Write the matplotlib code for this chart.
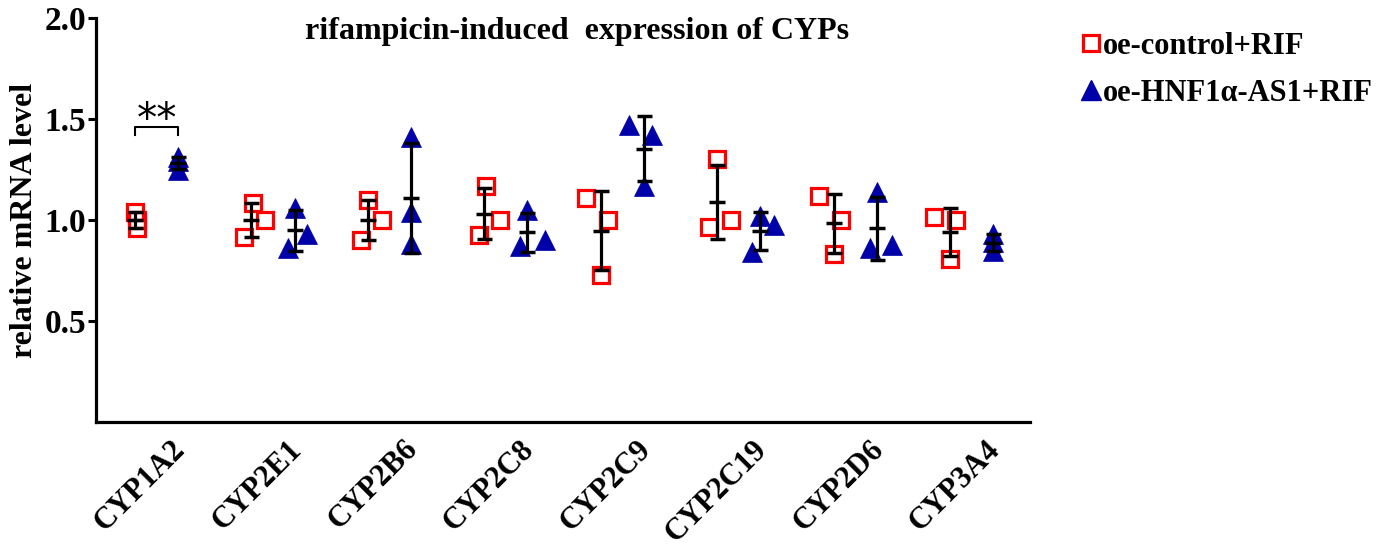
import numpy as np
import matplotlib
matplotlib.use("Agg")
import matplotlib.pyplot as plt
import matplotlib.transforms as mtransforms
from matplotlib.lines import Line2D

# ---------------- data ----------------
genes = ["CYP1A2", "CYP2E1", "CYP2B6", "CYP2C8", "CYP2C9", "CYP2C19", "CYP2D6", "CYP3A4"]
control_vals = [
    [1.04, 1.00, 0.96],
    [1.085, 1.00, 0.915],
    [1.10, 1.00, 0.90],
    [1.17, 1.00, 0.925],
    [1.11, 1.00, 0.73],
    [1.30, 1.00, 0.965],
    [1.12, 1.00, 0.83],
    [1.015, 1.00, 0.805],
]
hnf_vals = [
    [1.31, 1.29, 1.25],
    [1.06, 0.93, 0.86],
    [1.41, 1.04, 0.88],
    [1.05, 0.90, 0.87],
    [1.47, 1.42, 1.17],
    [1.02, 0.975, 0.84],
    [1.14, 0.86, 0.875],
    [0.93, 0.89, 0.845],
]
legend_labels = ["oe-control+RIF", "oe-HNF1\u03b1-AS1+RIF"]
title = "rifampicin-induced  expression of CYPs"
ylabel = "relative mRNA level"
yticks = [0.5, 1.0, 1.5, 2.0]
sig_text = "**"

# ---------------- layout / style ----------------
# horizontal scatter spread of replicate points (layout only)
ctrl_jit = [[0, 0.02, 0.02], [0.01, 0.12, -0.06], [0, 0.12, -0.06], [0.01, 0.13, -0.05],
            [-0.13, 0.06, 0], [0, 0.12, -0.07], [-0.13, 0.06, 0], [-0.14, 0.05, 0]]
hnf_jit = [[0, 0, 0], [0, 0.11, -0.06], [0, 0, 0], [0, 0.15, -0.06],
           [-0.13, 0.07, 0], [0, 0.12, -0.07], [0, -0.06, 0.13], [0, 0, 0]]
off = 0.185
red = "#FF0000"
blue = "#0000A8"
serif = ["Liberation Serif", "DejaVu Serif"]

fig = plt.figure(figsize=(13.96, 5.46), dpi=100)
ax = fig.add_axes([96 / 1396, 1 - 422 / 546, (1030 - 96) / 1396, (422 - 18) / 546])

x = np.arange(len(genes))
for i in range(len(genes)):
    c = np.array(control_vals[i])
    h = np.array(hnf_vals[i])
    xc = x[i] - off
    xh = x[i] + off
    ax.plot(xc + np.array(ctrl_jit[i]), c, linestyle="none", marker="s", ms=11.5,
            mfc="none", mec=red, mew=2.3, zorder=3)
    ax.plot(xh + np.array(hnf_jit[i]), h, linestyle="none", marker="^", ms=14.5,
            mfc=blue, mec=blue, mew=0.5, zorder=3)
    for xx, v in ((xc, c), (xh, h)):
        ax.errorbar(xx, v.mean(), yerr=v.std(ddof=1), fmt="_", ms=11, mew=2.5,
                    color="black", ecolor="black", elinewidth=2.3, capsize=5.4,
                    capthick=2.5, zorder=4)

# significance bracket
y_br = 1.46
ax.plot([x[0] - off, x[0] - off, x[0] + off, x[0] + off],
        [y_br - 0.04, y_br, y_br, y_br - 0.04], color="black", lw=1.5, zorder=4)
ax.text(x[0], y_br + 0.03, sig_text, ha="center", va="center", fontsize=29,
        family="DejaVu Sans")

ax.set_xlim(-0.52, 7.5)
ax.set_ylim(0, 2.0)
ax.set_yticks(yticks)
ax.set_yticklabels([f"{t:.1f}" for t in yticks], family=serif, fontweight="bold", fontsize=24)
ax.set_xticks(x)
ax.set_xticklabels([])
lab_tr = ax.get_xaxis_transform() + mtransforms.ScaledTranslation(24 / 100, -23 / 100,
                                                                   fig.dpi_scale_trans)
for xi, g in zip(x, genes):
    ax.text(xi, 0, g, transform=lab_tr, family=serif, fontweight="bold", fontsize=22,
            rotation=45, ha="right", va="center", rotation_mode="anchor", clip_on=False)
ax.tick_params(axis="x", length=0, pad=2)
ax.tick_params(axis="y", length=6, width=2.2, pad=1)
for s in ("top", "right"):
    ax.spines[s].set_visible(False)
for s in ("left", "bottom"):
    ax.spines[s].set_linewidth(2.3)

ax.set_ylabel(ylabel, family=serif, fontweight="bold", fontsize=23, labelpad=4)
ax.set_title(title, family=serif, fontweight="bold", fontsize=23, x=0.515, y=0.91, va="bottom")

handles = [
    Line2D([], [], linestyle="none", marker="s", ms=11, mfc="none", mec=red, mew=2.3),
    Line2D([], [], linestyle="none", marker="^", ms=14, mfc=blue, mec=blue),
]
fig.legend(handles, legend_labels, loc="upper left", bbox_to_anchor=(1055 / 1396, 1 - 4 / 546),
           frameon=False, handlelength=0.55, handletextpad=0.12, labelspacing=0.6,
           prop={"family": serif, "weight": "bold", "size": 22})

fig.savefig("out.png", dpi=100)
